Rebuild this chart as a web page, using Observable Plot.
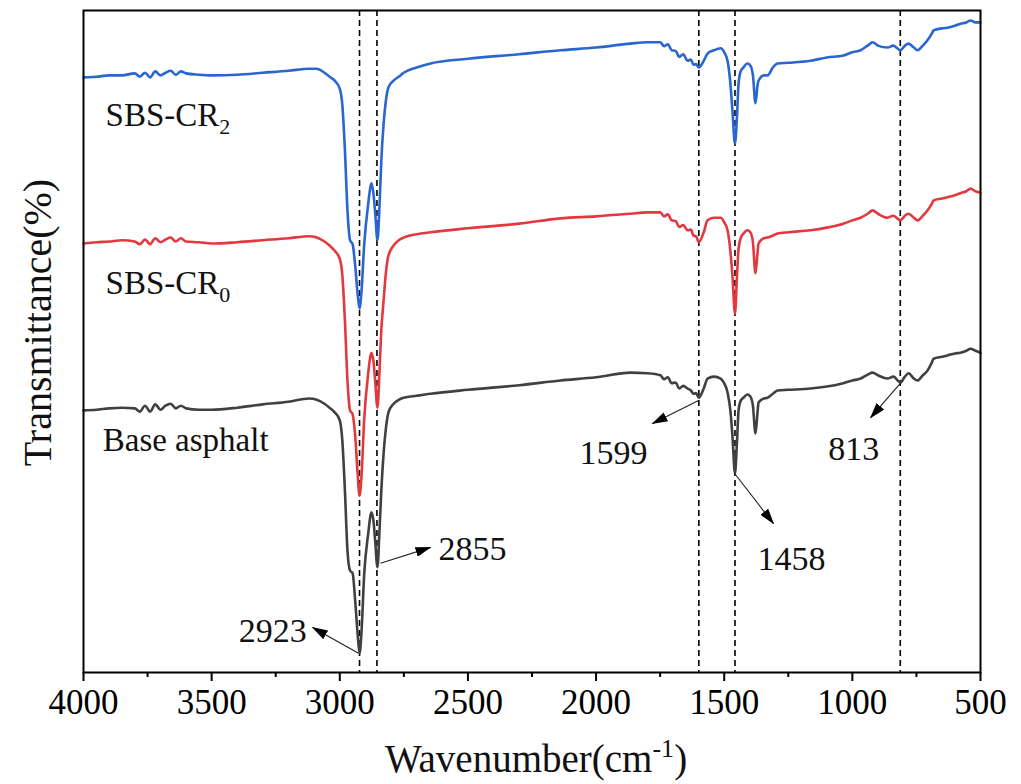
<!DOCTYPE html>
<html><head><meta charset="utf-8">
<script src="https://cdn.jsdelivr.net/npm/d3@7"></script>
<script src="https://cdn.jsdelivr.net/npm/@observablehq/plot@0.6"></script>
<style>body{margin:0;background:#fff;}</style>
</head><body><div id="chart"></div>
<script>
// ---- data ----
const wavenumber = [
4000,3950,3900,3850,3800,3780,3760,3740,3720,3700,3680,3660,3640,3620,3600,3550,3500,3400,3300,3200,3120,3090,3060,3040,3020,3000,
2990,2980,2970,2960,2950,2940,2930,2923,2915,2905,2890,2876,2868,2862,2853,2845,2838,2829,2820,2810,2790,2770,2751,2700,2646,
2500,2300,2139,2000,1866,1800,1749,1735,1720,1705,1690,1675,1660,1643,1630,1620,1610,1599,
1580,1565,1540,1514,1500,1487,1476,1468,1458,1450,1444,1435,1425,1410,1398,1388,1378,1370,1366,1345,1331,1310,1292,1250,
1163,1100,1035,1000,968,940,921,900,863,840,813,795,781,760,746,725,707,690,683,650,629,600,578,555,539,520,500];
const sbsCR2 = [
89.9,90.0,90.2,90.2,90.5,90.0,90.6,89.9,90.8,90.2,90.6,90.9,90.3,90.8,90.5,90.3,90.2,90.3,90.6,90.9,91.2,91.2,90.6,90.0,89.4,88.2,
85.7,78.9,69.8,65.3,64.7,61.5,57.0,55.0,57.7,64.5,70.5,73.9,72.1,69.5,65.3,70.5,77.3,82.9,86.4,88.4,89.4,90.0,90.6,91.4,92.0,
92.7,93.4,94.0,94.4,95.0,95.2,95.2,94.6,94.9,94.0,93.9,93.0,93.4,92.4,92.6,91.8,91.9,91.4,
92.4,93.5,94.0,94.3,93.7,92.4,89.0,84.9,79.9,84.1,89.0,90.9,91.4,92.0,91.7,90.2,86.0,88.7,89.4,90.2,90.2,91.4,92.0,92.1,
92.4,92.9,93.2,93.7,94.0,94.7,95.2,94.7,94.4,94.7,94.0,94.7,95.0,94.4,94.0,94.7,95.5,96.5,97.0,97.3,97.4,97.7,98.0,98.2,98.5,98.2,98.2];
const sbsCR0 = [
64.8,65.0,65.1,65.3,65.1,64.7,65.4,64.7,65.6,65.0,65.4,65.7,65.1,65.6,65.1,65.0,64.8,65.0,65.3,65.6,65.9,65.7,65.1,64.5,63.7,62.5,
60.0,53.2,44.1,39.6,39.0,35.8,29.8,26.7,29.8,38.1,44.9,48.3,46.8,44.1,40.0,45.6,51.7,56.2,60.4,63.0,64.5,65.3,65.7,66.2,66.5,
67.1,67.8,68.6,68.9,69.3,69.5,69.5,68.9,69.2,68.3,68.2,67.3,67.6,66.8,66.9,66.0,65.9,65.0,
66.5,68.3,68.7,68.7,68.0,66.8,63.7,60.0,54.2,60.0,64.0,65.7,66.3,66.8,66.5,65.0,60.3,63.4,64.8,65.6,65.7,66.0,66.3,66.5,
66.8,67.2,67.8,68.3,68.7,69.3,69.8,69.3,68.7,69.0,68.3,69.0,69.3,68.7,68.3,69.0,69.8,70.8,71.3,71.6,71.8,72.1,72.4,72.7,73.1,72.7,72.5];
const baseAsphalt = [
39.6,39.7,39.9,40.0,39.9,39.4,40.3,39.4,40.5,39.7,40.3,40.6,39.9,40.3,39.9,39.7,39.7,40.0,40.5,40.9,41.4,41.2,40.6,40.0,39.3,38.1,
35.0,27.5,18.4,15.4,15.0,10.9,5.6,2.9,6.3,14.7,20.7,24.2,22.7,19.9,15.9,21.5,27.5,33.1,36.9,39.3,40.6,41.2,41.5,41.8,42.1,
42.7,43.4,44.1,44.6,45.3,45.2,44.9,44.3,44.6,43.7,43.8,42.9,43.3,42.9,42.6,42.1,42.2,41.5,
42.9,44.4,44.7,44.4,43.7,42.3,39.6,35.8,30.1,35.0,39.6,41.1,41.5,42.0,41.7,40.3,36.1,39.3,40.8,41.4,41.5,42.1,42.6,42.7,
42.9,43.2,43.7,44.1,44.4,45.0,45.3,44.9,44.4,44.7,43.8,44.7,45.2,44.4,44.1,44.9,45.6,46.8,47.4,47.7,47.9,48.2,48.3,48.6,48.9,48.6,48.3];
const seriesNames = ["SBS-CR2", "SBS-CR0", "Base asphalt"];
const peakWavenumbers = [2923, 2855, 1599, 1458, 813];
const peakLabels = ["2923", "2855", "1599", "1458", "813"];
const majorTicks = [4000, 3500, 3000, 2500, 2000, 1500, 1000, 500];
const minorTicks = [3750, 3250, 2750, 2250, 1750, 1250, 750];

// ---- layout of annotations (data units) ----
const seriesLabelLayout = [
  {name: seriesNames[0], x: 3914, y: 84.1},
  {name: seriesNames[1], x: 3914, y: 58.8},
  {name: seriesNames[2], x: 3925, y: 35.0}
];
const peakLabelLayout = [
  {label: peakLabels[0], x: 3262, y: 6.3},
  {label: peakLabels[1], x: 2482, y: 18.7},
  {label: peakLabels[2], x: 1932, y: 33.2},
  {label: peakLabels[3], x: 1237, y: 17.2},
  {label: peakLabels[4], x: 995, y: 33.8}
];
const arrowLayout = [
  {x1: 2927, y1: 2.9, x2: 3106, y2: 6.8},
  {x1: 2841, y1: 16.5, x2: 2646, y2: 18.9},
  {x1: 1600, y1: 41.1, x2: 1780, y2: 37.6},
  {x1: 1460, y1: 30.1, x2: 1308, y2: 22.5},
  {x1: 812, y1: 43.7, x2: 929, y2: 38.5}
];

const toRows = (vals) => vals.map((v, i) => ({wn: wavenumber[i], t: v}));
const colors = ["#2a66d0", "#e2393e", "#404040"];
const serif = "'Liberation Serif','Times New Roman',serif";

const chart = Plot.plot({
  width: 1021, height: 784,
  marginLeft: 83, marginRight: 41, marginTop: 10, marginBottom: 112,
  style: {fontFamily: serif, background: "#fff", color: "#000"},
  x: {domain: [4000, 500], label: null},
  y: {domain: [0, 100], axis: null, label: null},
  marks: [
    Plot.ruleX(peakWavenumbers, {stroke: "#000", strokeWidth: 1.6, strokeDasharray: "6,4"}),
    Plot.line(toRows(baseAsphalt), {x: "wn", y: "t", stroke: colors[2], strokeWidth: 2.6, curve: "monotone-x"}),
    Plot.line(toRows(sbsCR0), {x: "wn", y: "t", stroke: colors[1], strokeWidth: 2.6, curve: "monotone-x"}),
    Plot.line(toRows(sbsCR2), {x: "wn", y: "t", stroke: colors[0], strokeWidth: 2.6, curve: "monotone-x"}),
    Plot.link(arrowLayout, {x1: "x1", y1: "y1", x2: "x2", y2: "y2", stroke: "#222", strokeWidth: 1.1, markerEnd: "arrow"}),
    Plot.text(seriesLabelLayout, {x: "x", y: "y", text: "name", textAnchor: "start", fontSize: 33, fill: "#111"}),
    Plot.text(peakLabelLayout, {x: "x", y: "y", text: "label", fontSize: 34, fill: "#111"}),
    Plot.frame({stroke: "#000", strokeWidth: 2}),
    Plot.axisX(majorTicks, {tickSize: 9, tickPadding: 8, fontSize: 35, tickFormat: d => String(d), strokeWidth: 2, label: null}),
    Plot.axisX(minorTicks, {tickSize: 5, tickFormat: () => "", strokeWidth: 2, label: null}),
    Plot.text(["Wavenumber(cm-1)"], {frameAnchor: "bottom", dy: 99, dx: 4, fontSize: 39, fill: "#111"}),
    Plot.text(["Transmittance(%)"], {frameAnchor: "left", textAnchor: "middle", rotate: -90, dx: -45, dy: -19, fontSize: 40, fill: "#111"})
  ]
});

document.getElementById("chart").appendChild(chart);

// ---- post-processing: sub/superscripts and filled arrow heads ----
const svg = d3.select(chart.tagName.toLowerCase() === "svg" ? chart : chart.querySelector("svg"));
svg.selectAll("text").each(function() {
  const t = this.textContent;
  if (t === "SBS-CR2" || t === "SBS-CR0") {
    const el = d3.select(this);
    el.text("SBS-CR");
    el.append("tspan").attr("dy", 8).attr("font-size", 22).text(t.slice(-1));
  } else if (t === "Wavenumber(cm-1)") {
    const el = d3.select(this);
    el.text("Wavenumber(cm");
    el.append("tspan").attr("dy", -15).attr("font-size", 26).text("-1");
    el.append("tspan").attr("dy", 15).text(")");
  }
});
const defs = svg.append("defs");
defs.append("marker")
  .attr("id", "peakHead").attr("viewBox", "0 0 16 10").attr("refX", 15).attr("refY", 5)
  .attr("markerWidth", 16).attr("markerHeight", 10).attr("markerUnits", "userSpaceOnUse")
  .attr("orient", "auto").attr("preserveAspectRatio", "none")
  .append("path").attr("d", "M0,0L16,5L0,10Z").attr("fill", "#000");
svg.selectAll("[marker-end]").attr("marker-end", "url(#peakHead)");
</script>
</body></html>
